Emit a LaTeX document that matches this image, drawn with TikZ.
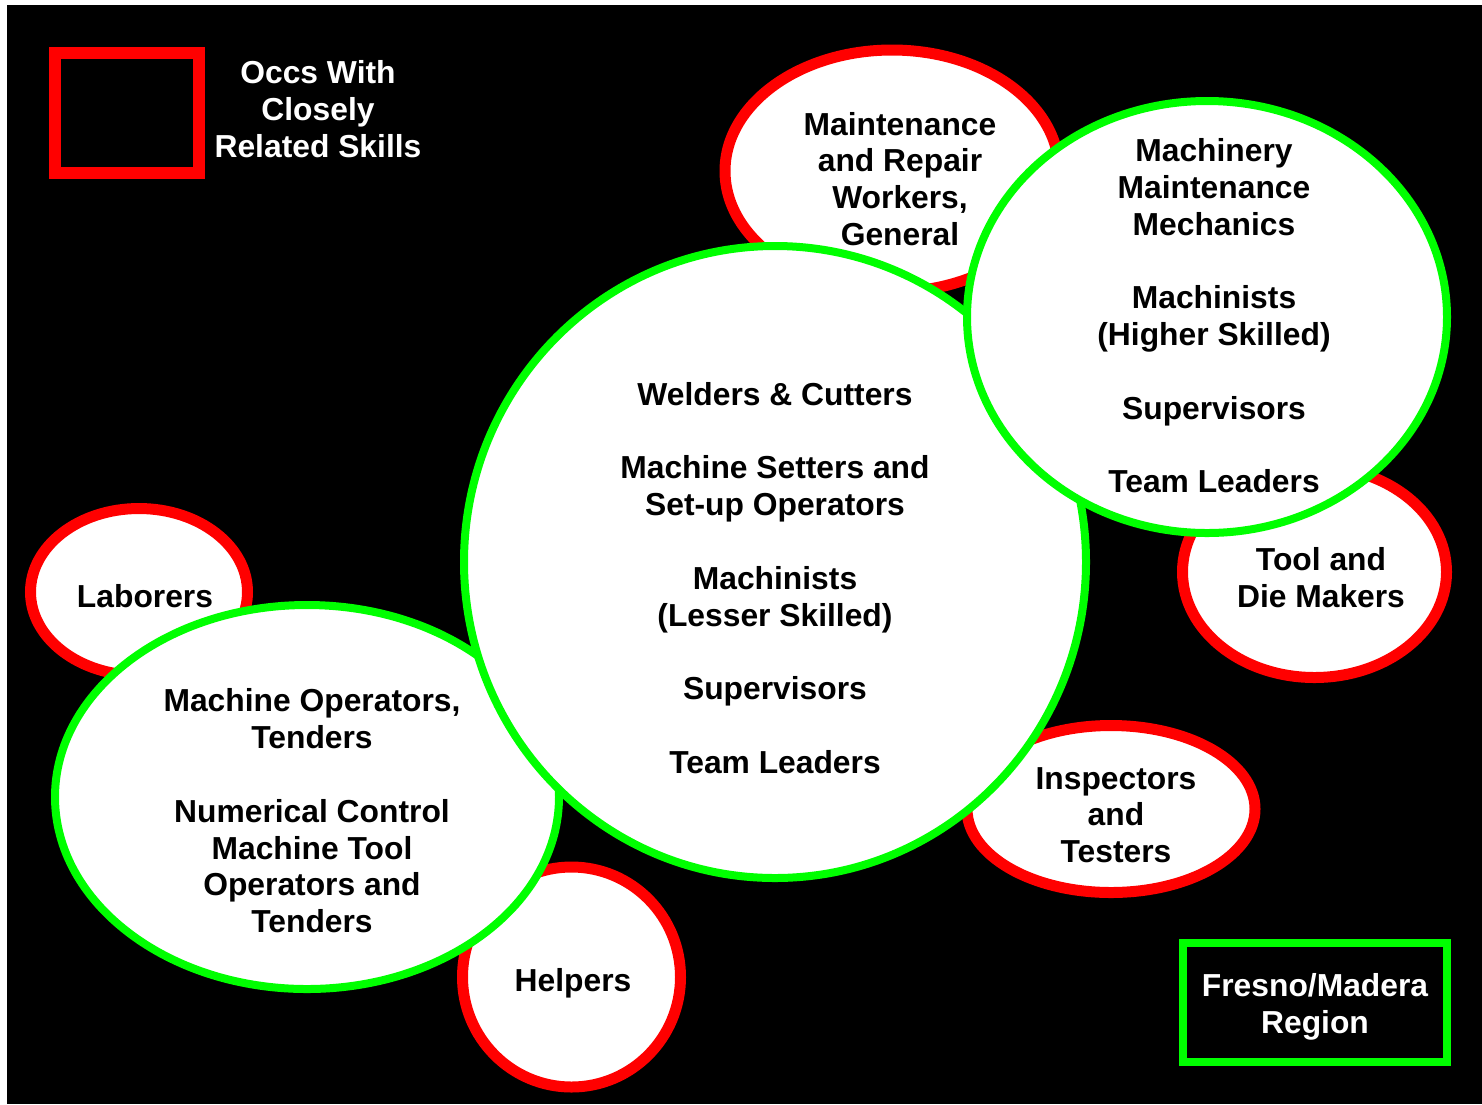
\documentclass[tikz,border=0pt]{standalone}
\usepackage{fontspec}
\setmainfont{Liberation Sans}
\usetikzlibrary{shapes.geometric}
\definecolor{lred}{RGB}{255,0,0}
\definecolor{lgreen}{RGB}{0,255,0}
\tikzset{
  redblob/.style={draw=lred, line width=11pt, fill=white},
  greenblob/.style={draw=lgreen, line width=8pt, fill=white},
  lbl/.style={align=center, font=\bfseries\fontsize{31.8}{36.8}\selectfont, text=black, inner sep=0pt},
  wlbl/.style={lbl, text=white},
}
\begin{document}
\begin{tikzpicture}[x=1pt,y=-1pt]
\useasboundingbox (0,0) rectangle (1482,1104);
\fill[white] (0,0) rectangle (1482,1104);
\fill[black] (7,5) rectangle (1482,1104);
% legend boxes
\node[draw=lred, line width=12pt, minimum width=144pt, minimum height=120pt, inner sep=0pt] (legred) at (127,113) {};
\node[draw=lgreen, line width=8pt, minimum width=264pt, minimum height=119pt, inner sep=0pt] (leggreen) at (1315,1002.5) {};
% red ellipses (behind)
\node[redblob, ellipse, minimum width=334pt, minimum height=242pt, inner sep=0pt] (maint) at (892,171) {};
\node[redblob, ellipse, minimum width=217pt, minimum height=167pt, inner sep=0pt] (labor) at (139,592) {};
\node[redblob, ellipse, minimum width=264pt, minimum height=211pt, inner sep=0pt] (tool) at (1314.5,572) {};
\node[redblob, ellipse, minimum width=288pt, minimum height=167pt, inner sep=0pt] (insp) at (1111,809) {};
\node[redblob, ellipse, minimum width=218pt, minimum height=220pt, inner sep=0pt] (help) at (571.5,977) {};
% green circles
\node[greenblob, ellipse, minimum width=504pt, minimum height=384pt, inner sep=0pt] (machop) at (307,797) {};
\node[greenblob, ellipse, minimum width=622pt, minimum height=632pt, inner sep=0pt] (core) at (775,562) {};
\node[greenblob, ellipse, minimum width=480pt, minimum height=432pt, inner sep=0pt] (machy) at (1207,317) {};
% texts
\node[wlbl] (t-occs) at (318,109) {Occs With\\Closely\\Related Skills};
\node[wlbl] (t-fresno) at (1315,1007) {Fresno/Madera\\Region};
\node[lbl] (t-maint) at (900,179) {Maintenance\\and Repair\\Workers,\\General};
\node[lbl] (t-labor) at (145,596) {Laborers};
\node[lbl] (t-tool) at (1321,578) {Tool and\\Die Makers};
\node[lbl] (t-insp) at (1116,815) {Inspectors\\and\\Testers};
\node[lbl] (t-help) at (573,983) {Helpers};
\node[lbl] (t-machop) at (312,811) {Machine Operators,\\Tenders\\[36.8pt]Numerical Control\\Machine Tool\\Operators and\\Tenders};
\node[lbl] (t-core) at (775,578) {Welders \& Cutters\\[36.8pt]Machine Setters and\\Set-up Operators\\[36.8pt]Machinists\\(Lesser Skilled)\\[36.8pt]Supervisors\\[36.8pt]Team Leaders};
\node[lbl] (t-machy) at (1214,316) {Machinery\\Maintenance\\Mechanics\\[36.8pt]Machinists\\(Higher Skilled)\\[36.8pt]Supervisors\\[36.8pt]Team Leaders};
\end{tikzpicture}
\end{document}
